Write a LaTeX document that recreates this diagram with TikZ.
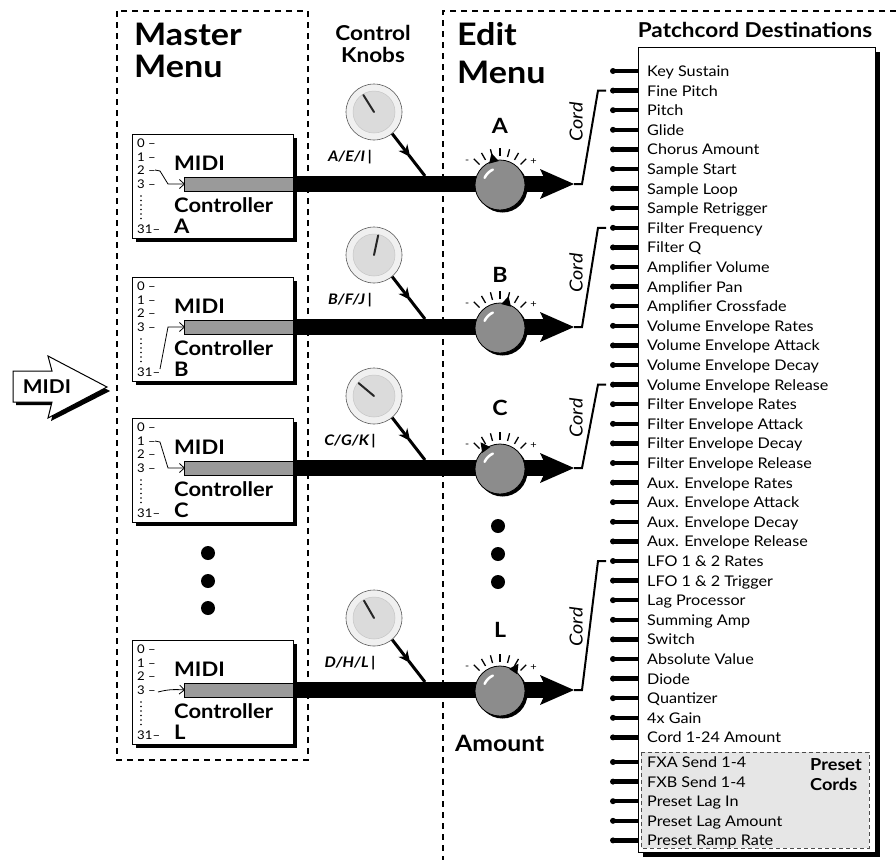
\documentclass[tikz,border=0pt]{standalone}
\usepackage{fontspec}
\setmainfont{Lato}[FakeStretch=1.1]
\usetikzlibrary{arrows.meta,calc}
\definecolor{knobgray}{HTML}{8C8C8C}
\definecolor{bargray}{HTML}{9A9A9A}
\definecolor{presetgray}{HTML}{E6E6E6}
\tikzset{
  menubox/.style={draw, line width=1.2pt, dash pattern=on 6pt off 5pt},
  title/.style={font=\fontsize{31}{31}\selectfont\bfseries, anchor=base west, inner sep=0},
  subtitle/.style={font=\fontsize{20.5}{20.5}\selectfont\bfseries, anchor=base, inner sep=0},
  item/.style={font=\fontsize{14.7}{15}\selectfont, anchor=base west, inner sep=0},
  pinline/.style={line width=4.5pt},
  num/.style={font=\fontsize{12}{12}\selectfont, anchor=west, inner sep=0},
  mlabel/.style={font=\fontsize{20}{20}\selectfont\bfseries, anchor=base west, inner sep=0},
  klabel/.style={font=\fontsize{21}{21}\selectfont\bfseries, inner sep=0},
  dlabel/.style={font=\fontsize{14.5}{14.5}\selectfont\bfseries\itshape, inner sep=0},
  cordlabel/.style={font=\fontsize{18}{18}\selectfont\itshape, inner sep=0, rotate=90},
  thinarrow/.style={line width=0.8pt, -{Straight Barb[length=5pt,width=9pt]}},
  stem/.style={line width=3pt},
  cordline/.style={line width=2pt},
  vdots/.style={line width=1.8pt, line cap=round, dash pattern=on 0pt off 4.5pt},
}
\begin{document}
\begin{tikzpicture}[x=1pt,y=-1pt]
\useasboundingbox (0,0) rectangle (896,860);

% menu frames
\draw[menubox] (117,11) rectangle (308,760);
\draw[menubox] (896,11) -- (443,11) -- (443,860);

\node[title] (mm1) at (134,45) {Master};
\node[title] (mm2) at (134,77) {Menu};
\node[title] (em1) at (457,45) {Edit};
\node[title] (em2) at (457,83) {Menu};
\node[subtitle] (ck1) at (373,40) {Control};
\node[subtitle] (ck2) at (373,62) {Knobs};
\node[subtitle] (pd) at (755,37) {Patchcord Destinations};

% big MIDI arrow
\fill (16,374) -- (55,374) -- (51,360) -- (110,391) -- (51,421) -- (55,405) -- (16,405) -- cycle;
\draw[fill=white, line width=1pt] (13,371) -- (52,371) -- (48,356) -- (107,387) -- (48,418) -- (52,402) -- (13,402) -- cycle;
\node[font=\fontsize{19}{19}\selectfont\bfseries, inner sep=0] (midiin) at (47,387) {MIDI};

% patchcord destination box
\fill (643,52) rectangle (880,857);
\node[draw, fill=white, line width=0.8pt, anchor=north west, minimum width=237pt, minimum height=805pt, inner sep=0, outer sep=0] (pbox) at (638,47) {};
\draw[draw=black!70, fill=presetgray, line width=0.8pt, dash pattern=on 4pt off 3pt] (641,752) rectangle (869,848);
\node[font=\fontsize{16.5}{16.5}\selectfont\bfseries, anchor=base west, inner sep=0] (pc1) at (810,770) {Preset};
\node[font=\fontsize{16.5}{16.5}\selectfont\bfseries, anchor=base west, inner sep=0] (pc2) at (810,790) {Cords};

\foreach \t [count=\i from 0] in {Key Sustain, Fine Pitch, Pitch, Glide, Chorus Amount, Sample Start, Sample Loop, Sample Retrigger, Filter Frequency, Filter Q, Amplifier Volume, Amplifier Pan, Amplifier Crossfade, Volume Envelope Rates, Volume Envelope Attack, Volume Envelope Decay, Volume Envelope Release, Filter Envelope Rates, Filter Envelope Attack, Filter Envelope Decay, Filter Envelope Release, Aux. Envelope Rates, Aux. Envelope Attack, Aux. Envelope Decay, Aux. Envelope Release, LFO 1 \& 2 Rates, LFO 1 \& 2 Trigger, Lag Processor, Summing Amp, Switch, Absolute Value, Diode, Quantizer, 4x Gain, Cord 1-24 Amount}{
  \pgfmathsetmacro\yy{71+19.6*\i}
  \coordinate (p\i) at (613,\yy);
  \draw[pinline] (p\i) -- (p\i -| pbox.west);
  \fill (p\i) circle[radius=3pt];
  \node[item] (d\i) at (647,\yy+5.5) {\t};
}
\foreach \t [count=\i from 0] in {FXA Send 1-4, FXB Send 1-4, Preset Lag In, Preset Lag Amount, Preset Ramp Rate}{
  \pgfmathsetmacro\yy{762+19.6*\i}
  \coordinate (q\i) at (613,\yy);
  \draw[pinline] (q\i) -- (q\i -| pbox.west);
  \fill (q\i) circle[radius=3pt];
  \node[item] (f\i) at (647,\yy+5.5) {\t};
}

% master menu controller boxes
\foreach \T/\L/\n in {134/A/a,277/B/b,418/C/c,640/L/l}{
  \fill (136,\T+4) rectangle (297,\T+108);
  \node[draw, fill=white, line width=0.8pt, anchor=north west, minimum width=161pt, minimum height=104pt, inner sep=0, outer sep=0] (box\n) at (132,\T) {};
  \node[num] (n0\n) at (137,\T+9) {0 –};
  \node[num] (n1\n) at (137,\T+23) {1 –};
  \node[num] (n2\n) at (137,\T+36) {2 –};
  \node[num] (n3\n) at (137,\T+50) {3 –};
  \draw[vdots] (141,\T+62) -- (141,\T+85);
  \node[num] (n31\n) at (137,\T+95) {31–};
  \node[mlabel] (mi\n) at (174,\T+36) {MIDI};
  \node[mlabel] (co\n) at (174,\T+78) {Controller};
  \node[mlabel] (le\n) at (174,\T+99) {\L};
  \draw[fill=bargray, line width=0.8pt] (184,\T+43) rectangle (293,\T+57);
  \fill (293,\T+42) rectangle (548,\T+58);
  \coordinate (in\n) at (185,\T+50);
}
\draw[thinarrow] (155,170) -- (160,171) -- (168,184) -- (ina);
\draw[thinarrow] (160,369) -- (168,327) -- (inb);
\draw[thinarrow] (155,441) -- (160,442) -- (168,468) -- (inc);
\draw[thinarrow] (158,692) .. controls (166,690) and (172,689) .. (inl);

% ellipsis dots
\foreach \y in {553,581,608} \fill (208,\y) circle[radius=7pt];
\foreach \y in {526,554,582} \fill (498,\y) circle[radius=7pt];

% knobs
\foreach \B/\K/\KY/\PA/\DA/\DL/\TY/\CY in {184/A/126/105/122/{A/E/I}/90.6/122, 327/B/275/75/78/{B/F/J}/227.8/273, 468/C/408/126/140/{C/G/K}/384.6/418, 690/L/630/56/120/{D/H/L}/561/627}{
  % control dial
  \node[circle, draw=gray!70!black, fill=gray!12, line width=0.6pt, minimum size=56pt, inner sep=0] (dial\K) at (374,\B-72) {};
  \fill[gray!28] (dial\K.center) circle[radius=21pt];
  \draw[gray!45, line width=0.5pt] (dial\K.center) circle[radius=21pt];
  \draw[line width=2pt, black!85, line cap=round] (dial\K.center) -- ++(\DA:20pt);
  \coordinate (se\K) at (425,\B-8);
  \draw[stem, -{Stealth[length=12pt,width=11pt,inset=4pt]}] (dial\K.-50) -- ($(dial\K.-50)!0.55!(se\K)$);
  \draw[stem] ($(dial\K.-50)!0.5!(se\K)$) -- (se\K);
  \node[dlabel] (dl\K) at (350,\B-27) {\DL\,|};
  % edit knob
  \fill (502.5,\B+3.5) circle[radius=25pt];
  \node[circle, draw, line width=0.8pt, fill=knobgray, minimum size=50pt, inner sep=0] (knob\K) at (500,\B+1) {};
  \draw[white, line width=2.5pt, line cap=round] ($(knob\K.center)+(115:17pt)$) arc[start angle=115, end angle=155, radius=17pt];
  \foreach \a in {45,60,...,135} \draw[line width=1.3pt] ($(knob\K.center)+(\a:29pt)$) -- ($(knob\K.center)+(\a:37pt)$);
  \fill ($(knob\K.center)+(\PA:33pt)$) -- ($(knob\K.center)+(\PA+12:24pt)$) -- ($(knob\K.center)+(\PA-12:24pt)$) -- cycle;
  \node[font=\fontsize{10}{10}\selectfont, inner sep=0] at ($(knob\K.center)+(145:40pt)$) {-};
  \node[font=\fontsize{10}{10}\selectfont, inner sep=0] at ($(knob\K.center)+(35:41pt)$) {+};
  \node[klabel] (kl\K) at (500,\KY) {\K};
  % output arrow and cord
  \fill (540,\B-15) -- (574,\B) -- (540,\B+15) -- (547,\B) -- cycle;
  \coordinate (tip\K) at (574,\B);
  \coordinate (tgt\K) at (606,\TY);
  \draw[cordline] (tip\K) -- ++(8,0) -- (598,\TY) -- (tgt\K);
  \node[cordlabel] (cl\K) at (576,\CY) {Cord};
}

\node[font=\fontsize{22.5}{22.5}\selectfont\bfseries, anchor=base west, inner sep=0] (amount) at (455,751) {Amount};
\end{tikzpicture}
\end{document}
